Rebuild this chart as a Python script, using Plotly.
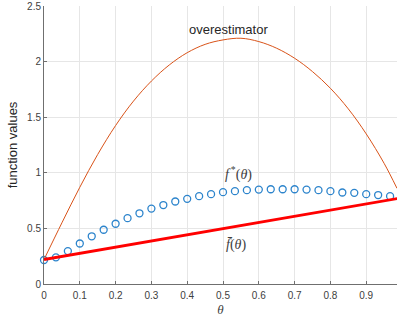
import plotly.graph_objects as go

# Sampled curves
theta_star = [k / 30 for k in range(30)]
f_star = [0.216, 0.24, 0.296, 0.364, 0.429, 0.488, 0.542, 0.592, 0.636, 0.678,
          0.71, 0.742, 0.766, 0.79, 0.808, 0.826, 0.835, 0.844, 0.849, 0.852,
          0.852, 0.852, 0.849, 0.844, 0.835, 0.823, 0.82, 0.808, 0.80, 0.79]

theta_over = [0.0, 0.05, 0.1, 0.15, 0.2, 0.25, 0.3, 0.35, 0.4, 0.45, 0.5, 0.55,
              0.6, 0.65, 0.7, 0.75, 0.8, 0.85, 0.9, 0.95, 0.986]
f_over = [0.22, 0.55, 0.87, 1.165, 1.425, 1.645, 1.825, 1.97, 2.08, 2.155, 2.195, 2.21,
          2.18, 2.12, 2.03, 1.91, 1.76, 1.575, 1.35, 1.085, 0.86]

theta_bar = [0.0, 1.0]
f_bar = [0.22, 0.775]

x_ticks = [0, 0.1, 0.2, 0.3, 0.4, 0.5, 0.6, 0.7, 0.8, 0.9]
y_ticks = [0, 0.5, 1, 1.5, 2, 2.5]

SANS = "Liberation Sans, Arial, Helvetica, sans-serif"
SERIF = "Liberation Serif, Times New Roman, serif"
AXIS = "#6f6f6f"
TEXT = "#262626"

fig = go.Figure()

fig.add_trace(go.Scatter(
    x=theta_star, y=f_star, mode="markers",
    marker=dict(symbol="circle-open", size=7, color="#2C84CC",
                line=dict(width=1.3, color="#2C84CC")),
    cliponaxis=False, showlegend=False,
))
fig.add_trace(go.Scatter(
    x=theta_over, y=f_over, mode="lines", line_shape="spline",
    line=dict(color="#D95319", width=1, smoothing=1), showlegend=False,
))
fig.add_trace(go.Scatter(
    x=theta_bar, y=f_bar, mode="lines",
    line=dict(color="#FF0000", width=2.8), showlegend=False,
))

fig.add_annotation(x=0.516, y=2.285, text="overestimator", showarrow=False,
                   font=dict(family=SANS, size=13, color=TEXT))
fig.add_annotation(x=0.542, y=0.99, text="<i>f</i><sup>\u2009*</sup>(<i>θ</i>)",
                   showarrow=False, font=dict(family=SERIF, size=14, color="#404040"))
fig.add_annotation(x=0.536, y=0.35, text="<i>f\u0304</i>(<i>θ</i>)",
                   showarrow=False, font=dict(family=SERIF, size=14, color="#404040"))

axis_common = dict(
    showgrid=True, gridcolor="#e6e6e6", gridwidth=1,
    showline=True, linecolor=AXIS, linewidth=1,
    ticks="inside", ticklen=3, tickcolor=AXIS, tickwidth=1,
    zeroline=False,
    tickfont=dict(family=SANS, size=10, color="#404040"),
)

fig.update_xaxes(range=[0, 0.986], tickvals=x_ticks,
                 ticktext=[f"{v:g}" for v in x_ticks],
                 ticklabelstandoff=2,
                 title=dict(text="<i>θ</i>", font=dict(family=SERIF, size=13, color="#404040"),
                            standoff=4),
                 **axis_common)
fig.update_yaxes(range=[0, 2.5], tickvals=y_ticks,
                 ticktext=[f"{v:g}" for v in y_ticks],
                 title=dict(text="function values", font=dict(family=SANS, size=13, color=TEXT),
                            standoff=6),
                 **axis_common)

fig.update_layout(
    width=397, height=324,
    margin=dict(l=44, r=0, t=6, b=40),
    paper_bgcolor="white", plot_bgcolor="white",
)

fig.write_html("out.html")
